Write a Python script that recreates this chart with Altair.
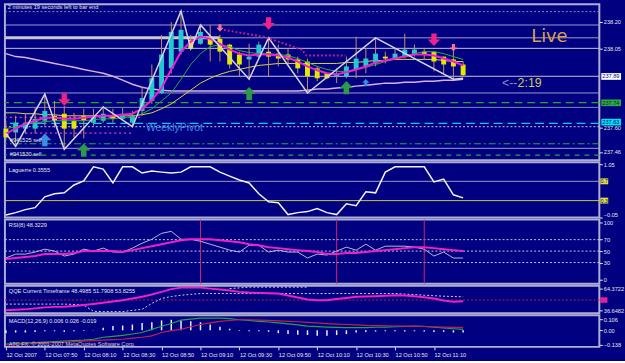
import altair as alt
import pandas as pd

# ---------------- data ----------------
bar_index = list(range(48))

opens = [237.593, 237.571, 237.593, 237.593, 237.638, 237.666, 237.678, 237.638, 237.666, 237.627,
         237.638, 237.666, 237.649, 237.627, 237.694, 237.751, 237.796, 237.936, 238.031, 238.099,
         238.076, 238.104, 238.104, 238.071, 238.015, 237.987, 238.003, 238.031, 238.020, 238.015,
         237.987, 237.975, 237.936, 237.908, 237.891, 237.891, 237.930, 237.947, 237.964, 238.003,
         237.992, 238.003, 238.015, 238.031, 238.031, 238.003, 237.987, 237.958]
highs = [237.638, 237.666, 237.678, 237.711, 237.790, 237.751, 237.722, 237.683, 237.706, 237.706,
         237.717, 237.706, 237.711, 237.694, 237.829, 237.958, 238.127, 238.200, 238.262, 238.127,
         238.183, 238.183, 238.127, 238.076, 238.031, 238.076, 238.088, 238.110, 238.071, 238.048,
         238.003, 237.992, 237.947, 237.908, 237.936, 238.003, 238.116, 238.048, 238.110, 238.031,
         238.048, 238.133, 238.071, 238.048, 238.031, 238.003, 238.060, 237.975]
lows = [237.526, 237.492, 237.565, 237.565, 237.610, 237.599, 237.475, 237.543, 237.537, 237.610,
        237.627, 237.627, 237.638, 237.604, 237.666, 237.734, 237.790, 237.908, 238.015, 238.043,
        238.071, 237.975, 237.975, 237.936, 237.891, 237.874, 237.992, 237.891, 237.947, 237.958,
        237.908, 237.796, 237.863, 237.874, 237.852, 237.880, 237.880, 237.908, 237.947, 237.964,
        237.987, 237.992, 238.003, 237.987, 237.919, 237.908, 237.874, 237.891]
closes = [237.543, 237.627, 237.627, 237.649, 237.694, 237.638, 237.593, 237.593, 237.638, 237.666,
          237.678, 237.649, 237.678, 237.666, 237.767, 237.880, 238.015, 238.144, 238.155, 238.048,
          238.144, 238.071, 238.031, 237.958, 237.958, 238.003, 238.071, 238.003, 237.992, 237.987,
          237.936, 237.891, 237.880, 237.880, 237.902, 237.947, 237.992, 237.992, 238.020, 237.992,
          238.020, 238.043, 238.043, 238.015, 237.975, 237.958, 237.947, 237.897]

ma_fast = [237.565, 237.593, 237.621, 237.638, 237.655, 237.655, 237.649, 237.649, 237.655, 237.661,
           237.666, 237.666, 237.672, 237.678, 237.706, 237.756, 237.824, 237.930, 238.031, 238.088,
           238.116, 238.104, 238.076, 238.043, 238.020, 238.009, 238.015, 238.015, 238.009, 237.998,
           237.975, 237.947, 237.925, 237.908, 237.902, 237.914, 237.930, 237.947, 237.970, 237.981,
           237.992, 238.003, 238.015, 238.015, 238.009, 237.992, 237.975, 237.953]
ma_mid = [237.593, 237.604, 237.616, 237.627, 237.633, 237.638, 237.638, 237.638, 237.638, 237.644,
          237.649, 237.649, 237.655, 237.661, 237.678, 237.706, 237.751, 237.796, 237.874, 237.958,
          238.020, 238.060, 238.071, 238.060, 238.037, 238.026, 238.020, 238.020, 238.015, 238.009,
          237.992, 237.970, 237.947, 237.930, 237.919, 237.919, 237.930, 237.942, 237.958, 237.975,
          237.992, 238.009, 238.020, 238.031, 238.031, 238.020, 238.003, 237.987]
ma_slow = [237.683, 237.683, 237.678, 237.678, 237.672, 237.672, 237.666, 237.666, 237.666, 237.666,
           237.666, 237.666, 237.666, 237.666, 237.672, 237.683, 237.706, 237.734, 237.773, 237.812,
           237.852, 237.880, 237.902, 237.919, 237.930, 237.942, 237.953, 237.958, 237.964, 237.964,
           237.964, 237.964, 237.964, 237.964, 237.964, 237.970, 237.970, 237.975, 237.981, 237.981,
           237.987, 237.987, 237.987, 237.987, 237.987, 237.981, 237.975, 237.975]
ma_long = [238.020, 238.003, 237.998, 237.987, 237.975, 237.964, 237.953, 237.942, 237.930, 237.919,
           237.908, 237.891, 237.869, 237.846, 237.829, 237.818, 237.812, 237.807, 237.807, 237.807,
           237.807, 237.807, 237.807, 237.807, 237.807, 237.807, 237.807, 237.807, 237.807, 237.807,
           237.807, 237.812, 237.818, 237.818, 237.824, 237.829, 237.835, 237.840, 237.846, 237.852,
           237.852, 237.857, 237.857, 237.863, 237.863, 237.869, 237.869, 237.874]

zz_i = [0, 1, 4, 6, 10, 13, 18, 19, 20, 25, 27, 31, 38, 46, 47]
zz_p = [237.565, 237.492, 237.790, 237.475, 237.717, 237.604, 238.262, 238.048, 238.183,
        237.874, 238.110, 237.796, 238.110, 237.874, 237.880]

dots_i = [22.4, 26.5, 30.4, 30.9, 34.9]
dots_p = [238.155, 238.116, 238.043, 238.009, 238.009]

lvl_top_dotted = [238.259]
lvl_gray = [238.183, 238.110, 237.796, 237.481]
lvl_pale = [238.050, 237.891]
lvl_faint = [237.714]
lvl_green_dash = [237.741]
lvl_green_dash_low = [237.442]
lvl_cyan_dash = [237.623]
lvl_white_dot = [237.604]
lvl_dash_dot = [237.507]
pink_seg_start = [-0.1, 2]
pink_seg_end = [14, 13]
pink_seg_p = [237.657, 237.567]
thick_seg_start = [-0.1]
thick_seg_end = [22]
thick_seg_p = [238.110]

arrow_down_big_i = [6, 27, 44]
arrow_down_big_p = [237.759, 238.192, 238.099]
arrow_down_small_i = [22, 46]
arrow_down_small_p = [238.166, 238.054]
arrow_up_green_i = [8, 25, 35]
arrow_up_green_p = [237.470, 237.793, 237.826]
arrow_up_blue_i = [4]
arrow_up_blue_p = [237.529]
arrow_up_blue_small_i = [37]
arrow_up_blue_small_p = [237.855]

price_ticks = [238.20, 238.05, 237.60, 237.46]
tag_bid_p, tag_bid_t = [237.89], ["237.89"]
tag_green_p, tag_green_t = [237.74], ["237.74"]
tag_cyan_p, tag_cyan_t = [237.63], ["237.63"]

lag = [0.0, 0.051, 0.113, 0.154, 0.379, 0.441, 0.461, 0.625, 0.707, 1.0,
       0.953, 0.666, 1.0, 1.0, 0.871, 0.912, 0.891, 0.871, 0.891, 1.0,
       1.0, 1.0, 0.891, 0.809, 0.727, 0.666, 0.441, 0.277, 0.256, 0.01,
       0.051, 0.072, 0.133, 0.051, 0.01, 0.236, 0.195, 0.482, 0.461, 0.891,
       1.0, 1.0, 1.0, 1.0, 0.686, 0.748, 0.420, 0.356]
lag_levels_hi = [0.7]
lag_levels_lo = [0.3]
lag_ticks = [1.05, -0.05]

rsi_vals = [37.9, 44.8, 44.8, 48.3, 53.4, 50.0, 41.4, 44.8, 53.4, 50.0,
            55.2, 48.3, 48.3, 55.2, 63.8, 70.7, 81.0, 84.5, 70.7, 70.7,
            67.2, 62.1, 56.9, 51.7, 48.3, 60.3, 60.3, 48.3, 51.7, 48.3,
            48.3, 37.9, 44.8, 43.1, 50.0, 56.9, 51.7, 62.1, 51.7, 58.6,
            58.6, 58.6, 56.9, 53.4, 41.4, 48.3, 37.9, 37.9]
rsi_ma = [36.2, 37.9, 39.7, 41.4, 44.8, 44.8, 44.8, 46.6, 50.0, 50.0,
          50.0, 50.0, 48.3, 51.7, 55.2, 58.6, 62.1, 65.5, 69.0, 70.7,
          70.7, 70.7, 69.0, 67.2, 65.5, 62.1, 60.3, 56.9, 55.2, 53.4,
          51.7, 50.0, 48.3, 44.8, 44.8, 46.6, 46.6, 48.3, 50.0, 51.7,
          53.4, 55.2, 56.9, 56.9, 55.2, 53.4, 51.7, 50.0]
rsi_levels = [70, 50, 30]
rsi_marks_i = [20, 34, 43]
rsi_ticks = [100, 70, 50, 30, 0]

qqe_vals = [37.04, 37.66, 38.28, 39.53, 40.77, 41.39, 41.64, 42.63, 43.63, 45.12,
            46.61, 48.22, 49.84, 51.95, 54.06, 56.92, 60.27, 63.75, 65.61, 65.61,
            65.61, 64.37, 63.13, 61.89, 60.27, 59.40, 59.03, 58.53, 58.16, 55.68,
            53.19, 50.71, 49.84, 49.84, 51.33, 52.57, 54.06, 54.44, 54.81, 55.43,
            56.05, 55.68, 54.81, 53.44, 51.95, 49.47, 47.85, 48.50]
qqe_trail = [44.87, 44.87, 44.87, 44.87, 44.87, 44.87, 44.87, 44.50, 43.63, 35.80,
             35.43, 35.43, 35.43, 37.04, 38.28, 45.74, 51.95, 54.44, 56.05, 57.17,
             58.16, 58.16, 58.16, 58.16, 58.16, 58.16, 58.16, 58.16, 58.16, 58.16,
             58.16, 58.16, 58.16, 58.16, 58.16, 58.16, 58.16, 58.16, 58.16, 58.16,
             58.16, 57.50, 56.92, 56.05, 55.43, 54.81, 54.44, 54.06]
qqe_upper_i = [23, 25, 31]
qqe_upper_v = [64.4, 66.2, 66.2]
qqe_level = [50]
qqe_ticks = [64.3722, 36.6482]

macd_hist = [-0.027, -0.021, -0.021, -0.015, -0.009, -0.009, -0.015, -0.009, -0.006, 0.002,
             0.024, 0.040, 0.045, 0.055, 0.070, 0.076, 0.094, 0.100, 0.094, 0.085,
             0.076, 0.055, 0.034, 0.015, -0.006, -0.009, -0.009, -0.015, -0.027, -0.036,
             -0.042, -0.045, -0.051, -0.051, -0.045, -0.036, -0.021, -0.015, -0.012, -0.009,
             -0.009, -0.012, -0.009, -0.012, -0.015, -0.015, -0.021, -0.020]
macd_main = [-0.130, -0.125, -0.121, -0.116, -0.112, -0.107, -0.103, -0.098, -0.094, -0.085,
             -0.066, -0.057, -0.048, -0.035, -0.021, 0.009, 0.038, 0.065, 0.097, 0.106,
             0.115, 0.115, 0.115, 0.111, 0.100, 0.093, 0.085, 0.079, 0.070, 0.061,
             0.052, 0.040, 0.035, 0.031, 0.028, 0.025, 0.025, 0.026, 0.029, 0.031,
             0.034, 0.036, 0.040, 0.038, 0.029, 0.022, 0.015, 0.009]
macd_sig = [-0.139, -0.135, -0.130, -0.125, -0.121, -0.116, -0.112, -0.107, -0.103, -0.098,
            -0.094, -0.089, -0.085, -0.075, -0.066, -0.053, -0.021, -0.003, 0.009, 0.034,
            0.055, 0.070, 0.085, 0.093, 0.100, 0.100, 0.097, 0.095, 0.090, 0.085,
            0.081, 0.076, 0.070, 0.064, 0.059, 0.055, 0.052, 0.047, 0.045, 0.043,
            0.041, 0.040, 0.038, 0.036, 0.034, 0.031, 0.027, 0.025]
macd_ticks = [0.106, 0.0, -0.138]

x_tick_values = [0, 4, 8, 12, 16, 20, 24, 28, 32, 36, 40, 44]
x_tick_labels = ["12 Oct 2007", "12 Oct 07:50", "12 Oct 08:10", "12 Oct 08:30",
                 "12 Oct 08:50", "12 Oct 09:10", "12 Oct 09:30", "12 Oct 09:50",
                 "12 Oct 10:10", "12 Oct 10:30", "12 Oct 10:50", "12 Oct 11:10"]

# ---------------- styling ----------------
BG = "#000080"
TXT = "#e6e6e6"
FONT = "Liberation Sans"
SMALL = 5.7
W = 602

XS = alt.Scale(domain=[-0.1, 61.0], nice=False, zero=False, padding=0)

DOWN = "M-0.42,-1L0.42,-1L0.42,-0.05L1,-0.05L0,1L-1,-0.05L-0.42,-0.05Z"
UP = "M-0.42,1L0.42,1L0.42,0.05L1,0.05L0,-1L-1,0.05L-0.42,0.05Z"
BOX_WIDE = "M-1,-0.34L1,-0.34L1,0.34L-1,0.34Z"
BOX_SMALL = "M-1,-0.75L1,-0.75L1,0.75L-1,0.75Z"


def rax(values, fmt=None, expr=None, flush=False):
    kw = dict(orient="right", values=values, title=None, domain=False, grid=False,
              tickSize=3, tickColor=TXT, labelColor=TXT, labelFont=FONT,
              labelFontSize=SMALL, labelPadding=1, labelOverlap=False)
    if fmt:
        kw["format"] = fmt
    if expr:
        kw["labelExpr"] = expr
    if flush:
        kw["labelFlush"] = True
    return alt.Axis(**kw)


label_expr = "[" + ",".join("'" + s + "'" for s in x_tick_labels) + "][round(datum.value/4)]"
X_AXIS = alt.Axis(values=x_tick_values, labelExpr=label_expr, orient="bottom", title=None,
                  labelAlign="left", labelBaseline="top", labelFont=FONT, labelFontSize=SMALL,
                  labelColor=TXT, tickColor=TXT, tickSize=3, labelPadding=2, domain=False,
                  grid=False, labelOverlap=False, labelBound=False, labelFlush=False)

# one context per panel: y scale, y axis (shared by every layer), x axis
PM = dict(ys=alt.Scale(domain=[237.413, 238.301], nice=False, zero=False),
          yax=rax(price_ticks, fmt=".2f"), xax=None)
PL = dict(ys=alt.Scale(domain=[-0.051, 1.096], nice=False, zero=False),
          yax=rax(lag_ticks, fmt=".2f", flush=True), xax=None)
PR = dict(ys=alt.Scale(domain=[-6.9, 105.2], nice=False, zero=False),
          yax=rax(rsi_ticks, fmt="d"), xax=None)
PQ = dict(ys=alt.Scale(domain=[33.32, 68.1], nice=False, zero=False),
          yax=rax(qqe_ticks, fmt=".4f"), xax=None)
PD = dict(ys=alt.Scale(domain=[-0.1573, 0.1427], nice=False, zero=False),
          yax=rax(macd_ticks, expr="datum.value == 0 ? '0.00' : format(datum.value, '.3f')"),
          xax=X_AXIS)


def X(p, field="i"):
    return alt.X(f"{field}:Q", scale=XS, axis=p["xax"])


def Y(p, field="v"):
    return alt.Y(f"{field}:Q", scale=p["ys"], axis=p["yax"])


def hlines(p, values, color, width=1.0, dash=None):
    mk = dict(color=color, strokeWidth=width)
    if dash:
        mk["strokeDash"] = dash
    return alt.Chart(pd.DataFrame({"v": values})).mark_rule(**mk).encode(y=Y(p))


def hsegs(p, starts, ends, values, color, width=1.0, dash=None):
    mk = dict(color=color, strokeWidth=width)
    if dash:
        mk["strokeDash"] = dash
    df = pd.DataFrame({"a": starts, "b": ends, "v": values})
    return alt.Chart(df).mark_rule(**mk).encode(x=X(p, "a"), x2="b:Q", y=Y(p))


def line(p, xs, ys, color, width=1.0, dash=None):
    mk = dict(color=color, strokeWidth=width)
    if dash:
        mk["strokeDash"] = dash
    df = pd.DataFrame({"i": xs, "v": ys})
    return alt.Chart(df).mark_line(**mk).encode(x=X(p), y=Y(p))


def arrows(p, xs, ys, shape, size, color):
    df = pd.DataFrame({"i": xs, "v": ys})
    return alt.Chart(df).mark_point(shape=shape, filled=True, size=size, color=color,
                                    opacity=1, strokeWidth=0).encode(x=X(p), y=Y(p))


def note(p, xs, ys, texts, color, size, font=FONT):
    df = pd.DataFrame({"i": xs, "v": ys, "t": texts})
    return alt.Chart(df).mark_text(align="left", baseline="middle", color=color,
                                   fontSize=size, font=font).encode(
        x=X(p), y=Y(p), text="t:N")


def tag(p, values, texts, fill, tcolor, shape, size, cx, tx, fsize=SMALL):
    df = pd.DataFrame({"v": values, "t": texts})
    box = alt.Chart(df).mark_point(shape=shape, filled=True, size=size, color=fill,
                                   opacity=1, strokeWidth=0).encode(x=alt.value(cx), y=Y(p))
    txt = alt.Chart(df).mark_text(align="left", baseline="middle", color=tcolor,
                                  fontSize=fsize, font=FONT).encode(
        x=alt.value(tx), y=Y(p), text="t:N")
    return [box, txt]


# ---------------- main price panel ----------------
bars_df = pd.DataFrame({"i": bar_index, "o": opens, "h": highs, "l": lows, "c": closes})
wicks = alt.Chart(bars_df).mark_rule(color="#c88c70", strokeWidth=1).encode(
    x=X(PM), y=Y(PM, "l"), y2="h:Q")
bodies = alt.Chart(bars_df).mark_bar(size=5).encode(
    x=X(PM), y=Y(PM, "o"), y2="c:Q",
    color=alt.condition(alt.datum.c >= alt.datum.o, alt.value("#22c8d2"), alt.value("#e6e600")))

main_layers = [
    hlines(PM, lvl_top_dotted, "#8e8ec8", 1, [2, 2]),
    hlines(PM, lvl_gray, "#9c9ccc", 1),
    hlines(PM, lvl_pale, "#c4c4d4", 1),
    hlines(PM, lvl_faint, "#8484b8", 1),
    hlines(PM, lvl_green_dash, "#22aa22", 1.2, [8, 5]),
    hlines(PM, lvl_green_dash_low, "#22aa44", 1.2, [5, 5]),
    hlines(PM, lvl_cyan_dash, "#10c8e8", 1.5, [9, 5]),
    hlines(PM, lvl_white_dot, "#c8c8e8", 1, [2, 2]),
    hlines(PM, lvl_dash_dot, "#22aa44", 1.2, [7, 3, 2, 3]),
    hsegs(PM, pink_seg_start, pink_seg_end, pink_seg_p, "#e040c0", 1.2, [2, 3]),
    hsegs(PM, thick_seg_start, thick_seg_end, thick_seg_p, "#c8c8c8", 3),
    line(PM, bar_index, ma_long, "#dcb0e0", 1.5),
    line(PM, bar_index, ma_slow, "#d8d840", 1),
    wicks,
    bodies,
    line(PM, bar_index, ma_mid, "#22b040", 1),
    line(PM, bar_index, ma_fast, "#f020d0", 2),
    line(PM, zz_i, zz_p, "#d4d4e4", 1.5),
    line(PM, dots_i, dots_p, "#b8208a", 2, [2, 2]),
    arrows(PM, arrow_down_big_i, arrow_down_big_p, DOWN, 160, "#f0208f"),
    arrows(PM, arrow_down_small_i, arrow_down_small_p, DOWN, 55, "#ff6f9a"),
    arrows(PM, arrow_up_green_i, arrow_up_green_p, UP, 180, "#2a9a48"),
    arrows(PM, arrow_up_blue_i, arrow_up_blue_p, UP, 170, "#3a8ee6"),
    arrows(PM, arrow_up_blue_small_i, arrow_up_blue_small_p, UP, 55, "#3a8ee6"),
    note(PM, [0.2], [238.284], ["2 minutes 19 seconds left to bar end"], TXT, SMALL),
    note(PM, [54.0], [238.116], ["Live"], "#d9a24a", 18, "DejaVu Sans"),
    note(PM, [51.0], [237.852], ["<--"], "#8c8cc8", 12.5),
    note(PM, [52.6], [237.852], ["2:19"], "#cccc50", 12.5),
    note(PM, [14.4], [237.596], ["WeeklyPivot"], "#3a8ee6", 10.5),
    note(PM, [0.4, 0.4], [237.526, 237.447], ["#941525 sell", "#941530 sell"], TXT, SMALL),
]
main_layers += tag(PM, tag_bid_p, tag_bid_t, "#ffffff", BG, BOX_WIDE, 400, 614, 605)
main_layers += tag(PM, tag_green_p, tag_green_t, "#2aa84a", "#0a2a10", BOX_WIDE, 400, 614, 605)
main_layers += tag(PM, tag_cyan_p, tag_cyan_t, "#00e4f0", BG, BOX_WIDE, 400, 614, 605)
main = alt.layer(*main_layers).properties(width=W, height=158)

# ---------------- Laguerre panel ----------------
lag_layers = [
    hlines(PL, lag_levels_hi, "#9a9ac4", 1),
    hlines(PL, lag_levels_lo, "#c8c83c", 1),
    line(PL, bar_index, lag, "#f2f2f2", 1.5),
    note(PL, [0.3], [0.93], ["Laguerre 0.3555"], TXT, SMALL),
]
lag_layers += tag(PL, lag_levels_hi, ["0.7"], "#e0e040", BG, BOX_SMALL, 64, 607, 603.5, 5)
lag_layers += tag(PL, lag_levels_lo, ["0.3"], "#e0e040", BG, BOX_SMALL, 64, 607, 603.5, 5)
lag_panel = alt.layer(*lag_layers).properties(width=W, height=56)

# ---------------- RSI panel ----------------
rsi_marks = alt.Chart(pd.DataFrame({"i": rsi_marks_i})).mark_rule(
    color="#d4246c", strokeWidth=1).encode(x=X(PR))
rsi_layers = [
    hlines(PR, rsi_levels, "#c8c8e8", 1, [2, 2]),
    rsi_marks,
    line(PR, bar_index, rsi_vals, "#b8b8d8", 1),
    line(PR, bar_index, rsi_ma, "#f020c8", 2),
    note(PR, [0.3], [94.8], ["RSI(8) 48.3229"], TXT, SMALL),
]
rsi_panel = alt.layer(*rsi_layers).properties(width=W, height=65)

# ---------------- QQE panel ----------------
qqe_layers = [
    hlines(PQ, qqe_level, "#c02040", 1, [2, 2]),
    line(PQ, bar_index, qqe_trail, "#d0d0f0", 1, [2, 2]),
    line(PQ, qqe_upper_i, qqe_upper_v, "#d0d0f0", 1, [2, 2]),
    line(PQ, bar_index, qqe_vals, "#f020c8", 2),
    note(PQ, [0.3], [61.9], ["QQE Current Timeframe 48.4985 51.7908 53.8255"], TXT, SMALL),
]
qqe_layers += tag(PQ, qqe_level, [""], "#e020a0", BG, BOX_SMALL, 56, 606.5, 604)
qqe_panel = alt.layer(*qqe_layers).properties(width=W, height=28)

# ---------------- MACD panel ----------------
macd_df = pd.DataFrame({"i": bar_index, "h": macd_hist})
hist = alt.Chart(macd_df).mark_rule(color="#f0f0f0", strokeWidth=1.5).encode(
    x=X(PD), y=Y(PD, "h"), y2=alt.datum(0))
macd_layers = [
    hist,
    line(PD, bar_index, macd_main, "#24a050", 1.2),
    line(PD, bar_index, macd_sig, "#c02050", 1.2),
    note(PD, [0.3], [0.088], ["MACD(12,26,9) 0.006 0.026 -0.019"], TXT, SMALL),
    note(PD, [0.3], [-0.131], ["ATC FX, \u00a9 2001-2007 MetaQuotes Software Corp."], "#d8c8d8", SMALL),
]
macd_panel = alt.layer(*macd_layers).properties(width=W, height=32)

chart = alt.VConcatChart(
    vconcat=[main, lag_panel, rsi_panel, qqe_panel, macd_panel],
    spacing=2,
    bounds="flush",
    background=BG,
    padding={"left": 0, "top": 1, "right": 0, "bottom": 0},
).configure_view(stroke="#aeaed2", strokeWidth=2, fill=BG)

chart.save("out.html", embed_options={"renderer": "svg", "actions": False})
